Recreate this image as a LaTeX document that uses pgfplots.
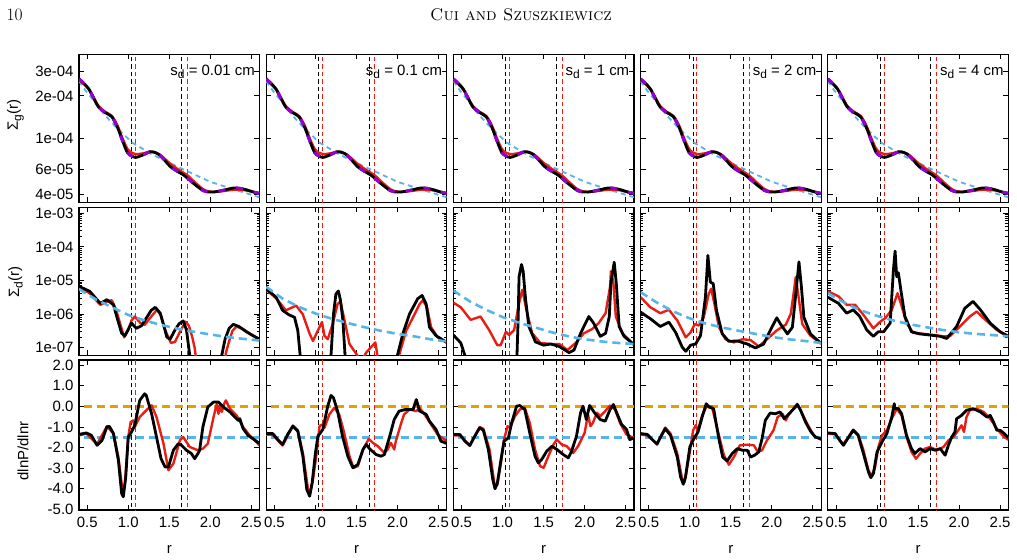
\documentclass[border=0pt]{standalone}
\usepackage{fontspec}
\usepackage{pgfplots}
\usepackage{pgfplotstable}
\pgfplotsset{compat=1.18}
\pgfkeys{/pgf/number format/assume math mode=true}
\newfontfamily\hel{Liberation Sans}

\definecolor{cred}{RGB}{232,30,20}
\definecolor{csky}{HTML}{56B4E9}
\definecolor{corange}{HTML}{E69F00}
\definecolor{cviolet}{HTML}{9400D3}

\newcommand{\tf}{\hel\fontsize{15}{15}\selectfont}
\newcommand{\sub}[1]{\raisebox{-0.45ex}{\fontsize{12}{12}\selectfont #1}}

\pgfplotsset{
  panel/.style={/pgfplots/.cd,
    scale only axis, width=180.5bp,
    xmin=0.4, xmax=2.6,
    xtick={0.5,1,1.5,2,2.5}, xticklabels={}, yticklabels={},
    axis line style={line width=1.2bp},
    tick style={black, line width=0.9bp},
    major tick length=5bp, tick align=inside,
    minor tick num=0,
    tick label style={font=\tf},
    yticklabel style={xshift=-2bp},
  },
  gasrow/.style={/pgfplots/.cd, ymin=3.5e-5, ymax=3.95e-4, height=148bp,
    ytick={4e-5,6e-5,1e-4,2e-4,3e-4}, panel},
  dustrow/.style={/pgfplots/.cd, ymin=6e-8, ymax=1.5e-3, height=148bp,
    ytick={1e-7,1e-6,1e-5,1e-4,1e-3}, panel},
  presrow/.style={/pgfplots/.cd, ymin=-5.03, ymax=2.25, height=150bp,
    ytick={-5,-4,-3,-2,-1,0,1,2}, panel},
  bottomlabels/.style={/pgfplots/.cd, xticklabels={0.5,1.0,1.5,2.0,2.5},
    xticklabel style={yshift=-4bp}},
  blk/.style={black, line width=2.8bp, line join=round},
  rd/.style={cred, line width=2.4bp, line join=round},
  bdash/.style={csky, line width=2.6bp, dash pattern=on 8bp off 5bp},
  gdash/.style={csky, line width=1.8bp, dash pattern=on 5bp off 4bp},
  vdash/.style={cviolet, line width=3bp, dash pattern=on 7bp off 11bp},
  odash/.style={corange, line width=2.6bp, dash pattern=on 8bp off 5bp},
  vblk/.style={black, line width=1bp, dash pattern=on 4.5bp off 3bp},
  vred/.style={cred, line width=1bp, dash pattern=on 4.5bp off 3bp},
}

% gap edges (black) and their shifted positions (red)
\newcommand{\edges}[2]{%
  \addplot[vblk] coordinates {(1.04,#1) (1.04,#2)};
  \addplot[vred] coordinates {(1.085,#1) (1.085,#2)};
  \addplot[vblk] coordinates {(1.655,#1) (1.655,#2)};
  \addplot[vred] coordinates {(1.725,#1) (1.725,#2)};
}

% gas surface density
\pgfplotstableread{
r s
0.40 2.64e-4
0.46 2.45e-4
0.52 2.24e-4
0.58 1.92e-4
0.64 1.66e-4
0.72 1.52e-4
0.80 1.42e-4
0.87 1.19e-4
0.93 9.6e-5
0.99 7.9e-5
1.04 7.5e-5
1.09 7.3e-5
1.18 7.6e-5
1.26 8.0e-5
1.32 7.95e-5
1.38 7.6e-5
1.45 6.9e-5
1.51 6.3e-5
1.60 5.8e-5
1.67 5.5e-5
1.73 5.15e-5
1.79 4.8e-5
1.85 4.5e-5
1.91 4.25e-5
1.97 4.15e-5
2.05 4.15e-5
2.15 4.25e-5
2.28 4.42e-5
2.36 4.4e-5
2.44 4.3e-5
2.52 4.15e-5
2.60 4.05e-5
}\gasblk

\pgfplotstableread{
r s
0.40 2.6e-4
0.46 2.42e-4
0.52 2.22e-4
0.58 1.94e-4
0.64 1.69e-4
0.72 1.54e-4
0.80 1.44e-4
0.87 1.23e-4
0.93 1.0e-4
0.99 8.4e-5
1.04 7.9e-5
1.09 7.7e-5
1.18 7.8e-5
1.26 8.0e-5
1.32 7.9e-5
1.38 7.7e-5
1.45 7.1e-5
1.51 6.6e-5
1.60 6.05e-5
1.67 5.7e-5
1.73 5.4e-5
1.79 5.0e-5
1.85 4.65e-5
1.91 4.35e-5
1.97 4.2e-5
2.05 4.15e-5
2.15 4.2e-5
2.28 4.3e-5
2.36 4.3e-5
2.44 4.25e-5
2.52 4.15e-5
2.60 4.05e-5
}\gasred

\pgfplotstableread{
r s
0.40 2.55e-4
0.48 2.18e-4
0.58 1.85e-4
0.72 1.45e-4
0.85 1.2e-4
1.05 9.3e-5
1.30 7.6e-5
1.67 6.0e-5
2.00 4.9e-5
2.30 4.3e-5
2.60 3.8e-5
}\gasinit

\newcommand{\gaspanel}[1]{%
  \edges{1e-5}{1e-3}
  \addplot[gdash] table[x=r,y=s] {\gasinit};
  \addplot[rd, smooth] table[x=r,y=s] {\gasred};
  \addplot[blk, smooth] table[x=r,y=s] {\gasblk};
  \addplot[vdash, smooth] table[x=r,y=s] {\gasblk};
  \node[anchor=base east, inner sep=0, font=\tf] at (rel axis cs:0.975,0.86) {s\sub{d} = #1 cm};
}

\newcommand{\preslines}{%
  \edges{-10}{10}
  \addplot[odash] coordinates {(0.3,0) (2.7,0)};
  \addplot[bdash] coordinates {(0.3,-1.5) (2.7,-1.5)};
}

\begin{document}
\begin{tikzpicture}
\path[use as bounding box] (0,0) rectangle (1017bp,-560bp);

\node[anchor=base west, inner sep=0] at (6.5bp,-20.7bp) {\fontsize{17.5}{17.5}\selectfont 10};
\node[anchor=base, inner sep=0] at (521bp,-20.7bp) {\fontsize{17}{17}\selectfont\textsc{Cui and Szuszkiewicz}};

% ---------------- gas row ----------------
\begin{semilogyaxis}[gasrow, at={(79bp,-54.3bp)}, anchor=north west,
  yticklabels={4e-05,6e-05,1e-04,2e-04,3e-04}]
\gaspanel{0.01}
\end{semilogyaxis}
\begin{semilogyaxis}[gasrow, at={(266.2bp,-54.3bp)}, anchor=north west]
\gaspanel{0.1}
\end{semilogyaxis}
\begin{semilogyaxis}[gasrow, at={(453.4bp,-54.3bp)}, anchor=north west]
\gaspanel{1}
\end{semilogyaxis}
\begin{semilogyaxis}[gasrow, at={(640.6bp,-54.3bp)}, anchor=north west]
\gaspanel{2}
\end{semilogyaxis}
\begin{semilogyaxis}[gasrow, at={(827.8bp,-54.3bp)}, anchor=north west]
\gaspanel{4}
\end{semilogyaxis}

% ---------------- dust row ----------------
\begin{semilogyaxis}[dustrow, at={(79bp,-207.3bp)}, anchor=north west,
  yticklabels={1e-07,1e-06,1e-05,1e-04,1e-03}]
\edges{1e-9}{1e-2}
\addplot[rd] coordinates {(0.40,6.4e-6) (0.53,4.2e-6) (0.66,1.9e-6) (0.75,2.4e-6) (0.80,2.6e-6) (0.85,1.4e-6) (0.90,5.4e-7) (0.95,2.05e-7) (1.00,3.4e-7) (1.04,6.5e-7) (1.08,8.5e-7) (1.15,5.4e-7) (1.20,4.8e-7) (1.28,8.5e-7) (1.35,1.35e-6) (1.40,9e-7) (1.45,3.4e-7) (1.52,1.4e-7) (1.57,1.5e-7) (1.63,3.0e-7) (1.70,6.0e-7) (1.74,4.5e-7) (1.78,2.1e-7) (1.81,1e-7) (1.86,1e-8) (2.16,1e-8) (2.19,7e-8) (2.22,1.3e-7) (2.27,3.2e-7) (2.32,4.3e-7) (2.40,3.6e-7) (2.50,2.5e-7) (2.60,1.8e-7)};
\addplot[blk] coordinates {(0.40,6.7e-6) (0.53,4.8e-6) (0.66,2.1e-6) (0.74,2.7e-6) (0.82,1.9e-6) (0.87,7e-7) (0.92,2.7e-7) (0.96,2.3e-7) (1.00,3.5e-7) (1.04,5.4e-7) (1.10,3.8e-7) (1.16,4.5e-7) (1.22,7.6e-7) (1.28,1.3e-6) (1.33,1.6e-6) (1.39,1.07e-6) (1.44,4e-7) (1.47,2.1e-7) (1.51,1.8e-7) (1.57,3.4e-7) (1.62,5.2e-7) (1.67,6.3e-7) (1.71,3.4e-7) (1.75,6e-8) (1.80,1e-8) (2.10,1e-8) (2.14,6e-8) (2.18,1.8e-7) (2.23,3.8e-7) (2.28,5.0e-7) (2.35,4.3e-7) (2.44,3.0e-7) (2.52,2.3e-7) (2.60,1.8e-7)};
\addplot[bdash] coordinates {(0.4,5.6e-6) (0.6,2.8e-6) (0.8,1.6e-6) (1.0,9.5e-7) (1.2,6.5e-7) (1.4,4.8e-7) (1.6,3.7e-7) (1.8,3.0e-7) (2.0,2.5e-7) (2.2,2.1e-7) (2.4,1.85e-7) (2.6,1.65e-7)};
\end{semilogyaxis}

\begin{semilogyaxis}[dustrow, at={(266.2bp,-207.3bp)}, anchor=north west]
\edges{1e-9}{1e-2}
\addplot[rd] coordinates {(0.40,5.3e-6) (0.52,3.0e-6) (0.64,1.3e-6) (0.765,1.8e-6) (0.845,1.0e-6) (0.93,2.6e-7) (0.97,1.6e-7) (1.03,3.3e-7) (1.08,5.8e-7) (1.11,2.3e-7) (1.15,1.8e-7) (1.21,5.1e-7) (1.27,2.0e-6) (1.305,2.4e-6) (1.355,6.5e-7) (1.415,1.3e-7) (1.50,6.5e-8) (1.56,4e-8) (1.62,7.3e-8) (1.70,1.2e-7) (1.73,1.45e-7) (1.76,5e-8) (1.79,1e-8) (2.00,1e-8) (2.02,6e-8) (2.105,3.2e-7) (2.19,8.1e-7) (2.27,2.0e-6) (2.31,2.6e-6) (2.36,1.6e-6) (2.41,4.1e-7) (2.49,2.05e-7) (2.60,1.45e-7)};
\addplot[blk] coordinates {(0.40,5.7e-6) (0.52,3.2e-6) (0.60,1.3e-6) (0.68,9.5e-7) (0.745,8.1e-7) (0.785,3.3e-7) (0.814,6e-8) (0.83,1e-8) (1.17,1e-8) (1.19,6e-8) (1.22,1e-6) (1.25,4e-6) (1.28,4.9e-6) (1.305,2.6e-6) (1.335,6.5e-7) (1.36,6.5e-8) (1.38,1e-8) (1.98,1e-8) (2.00,6e-8) (2.065,2.6e-7) (2.146,1e-6) (2.247,2.9e-6) (2.30,3.6e-6) (2.35,2.0e-6) (2.39,4.1e-7) (2.47,2.3e-7) (2.60,1.45e-7)};
\addplot[bdash] coordinates {(0.4,6.5e-6) (0.6,2.9e-6) (0.8,1.64e-6) (1.0,1.05e-6) (1.2,7.3e-7) (1.4,5.4e-7) (1.6,4.1e-7) (1.8,3.2e-7) (2.0,2.6e-7) (2.2,2.2e-7) (2.4,1.8e-7) (2.6,1.55e-7)};
\end{semilogyaxis}

\begin{semilogyaxis}[dustrow, at={(453.4bp,-207.3bp)}, anchor=north west]
\edges{1e-9}{1e-2}
\addplot[rd] coordinates {(0.40,2.2e-6) (0.49,1.6e-6) (0.61,6.8e-7) (0.73,8.5e-7) (0.835,3.4e-7) (0.935,1.2e-7) (0.976,1.2e-7) (1.04,3.0e-7) (1.08,2.4e-7) (1.14,3.4e-7) (1.20,2.1e-6) (1.24,5.3e-6) (1.29,1.35e-6) (1.36,2.7e-7) (1.46,1.4e-7) (1.585,1.3e-7) (1.69,1.3e-7) (1.79,8.6e-8) (1.89,1.4e-7) (1.99,2.7e-7) (2.09,3.6e-7) (2.17,5.4e-7) (2.255,1.07e-6) (2.31,6.7e-6) (2.32,1.9e-5) (2.35,8.4e-6) (2.38,8.5e-7) (2.46,2.7e-7) (2.60,1.25e-7)};
\addplot[blk] coordinates {(0.40,2.4e-7) (0.49,1.4e-7) (0.55,5e-8) (0.58,1e-8) (1.15,1e-8) (1.175,6e-8) (1.19,8.5e-7) (1.20,1.3e-5) (1.23,3.0e-5) (1.25,1.9e-5) (1.28,2.7e-6) (1.32,4.3e-7) (1.40,1.5e-7) (1.50,1.2e-7) (1.585,1.3e-7) (1.69,1.1e-7) (1.81,7.2e-8) (1.87,8.6e-8) (1.95,2.7e-7) (2.05,8.5e-7) (2.11,5.4e-7) (2.19,2.2e-7) (2.255,2.7e-7) (2.30,8.5e-7) (2.32,8.4e-6) (2.36,3.5e-5) (2.385,8.4e-6) (2.42,4.3e-7) (2.48,2.2e-7) (2.60,1.25e-7)};
\addplot[bdash] coordinates {(0.4,5.0e-6) (0.6,2.4e-6) (0.8,1.35e-6) (1.0,8.2e-7) (1.2,5.6e-7) (1.4,4.0e-7) (1.6,2.9e-7) (1.8,2.2e-7) (2.0,1.8e-7) (2.2,1.55e-7) (2.4,1.4e-7) (2.6,1.3e-7)};
\end{semilogyaxis}

\begin{semilogyaxis}[dustrow, at={(640.6bp,-207.3bp)}, anchor=north west]
\edges{1e-9}{1e-2}
\addplot[rd] coordinates {(0.40,3.2e-6) (0.52,1.6e-6) (0.64,1.07e-6) (0.745,1.35e-6) (0.847,6.5e-7) (0.95,2.05e-7) (1.01,2.9e-7) (1.06,5.1e-7) (1.11,4.6e-7) (1.17,8.1e-7) (1.23,4.0e-6) (1.26,5.7e-6) (1.30,2.0e-6) (1.355,4.1e-7) (1.435,1.8e-7) (1.537,1.45e-7) (1.64,1.8e-7) (1.74,1.7e-7) (1.84,1.1e-7) (1.94,1.8e-7) (2.06,3.3e-7) (2.17,4.9e-7) (2.23,1.02e-6) (2.27,5.1e-6) (2.29,1.26e-5) (2.32,4.1e-6) (2.37,5.1e-7) (2.47,2.3e-7) (2.60,1.35e-7)};
\addplot[blk] coordinates {(0.40,1.15e-6) (0.52,7.3e-7) (0.64,4.3e-7) (0.745,5.8e-7) (0.826,2.9e-7) (0.907,1.05e-7) (0.95,7.9e-8) (1.01,1.2e-7) (1.07,1.3e-7) (1.13,2.3e-7) (1.19,3.2e-6) (1.22,5.6e-5) (1.25,9.0e-6) (1.285,8.1e-6) (1.325,1.3e-6) (1.395,2.6e-7) (1.475,1.56e-7) (1.58,1.6e-7) (1.70,1.3e-7) (1.80,9.9e-8) (1.90,1.3e-7) (1.98,3.3e-7) (2.06,7.8e-7) (2.105,5.1e-7) (2.19,2.6e-7) (2.25,4.1e-7) (2.30,6.4e-6) (2.33,3.6e-5) (2.36,6.4e-6) (2.39,8.1e-7) (2.47,2.6e-7) (2.60,1.35e-7)};
\addplot[bdash] coordinates {(0.4,4.5e-6) (0.6,2.2e-6) (0.8,1.2e-6) (1.0,7.5e-7) (1.2,5.2e-7) (1.4,4.0e-7) (1.6,3.2e-7) (1.8,2.6e-7) (2.0,2.1e-7) (2.2,1.8e-7) (2.4,1.6e-7) (2.6,1.4e-7)};
\end{semilogyaxis}

\begin{semilogyaxis}[dustrow, at={(827.8bp,-207.3bp)}, anchor=north west]
\edges{1e-9}{1e-2}
\addplot[rd] coordinates {(0.40,4.8e-6) (0.53,3.4e-6) (0.63,1.9e-6) (0.733,1.9e-6) (0.835,9.5e-7) (0.955,3.8e-7) (1.04,6.0e-7) (1.10,7.6e-7) (1.18,1.35e-6) (1.25,4.2e-6) (1.29,2.1e-6) (1.36,5.4e-7) (1.44,2.8e-7) (1.565,2.6e-7) (1.69,2.4e-7) (1.81,2.2e-7) (1.89,2.25e-7) (2.01,4.3e-7) (2.13,8.5e-7) (2.215,1.2e-6) (2.32,6.8e-7) (2.46,3.4e-7) (2.60,2.2e-7)};
\addplot[blk] coordinates {(0.40,3.2e-6) (0.53,2.1e-6) (0.63,1.07e-6) (0.71,1.35e-6) (0.79,8.5e-7) (0.875,3.4e-7) (0.955,2.2e-7) (1.015,3.0e-7) (1.08,3.0e-7) (1.16,5.4e-7) (1.20,2.1e-5) (1.22,7.5e-5) (1.24,1.3e-5) (1.26,1.7e-5) (1.29,5.3e-6) (1.34,8.5e-7) (1.42,3.0e-7) (1.52,2.6e-7) (1.645,2.4e-7) (1.77,2.2e-7) (1.85,1.9e-7) (1.97,4.3e-7) (2.07,1.5e-6) (2.17,2.4e-6) (2.26,1.35e-6) (2.38,5.4e-7) (2.50,3.0e-7) (2.60,2.2e-7)};
\addplot[bdash] coordinates {(0.4,4.2e-6) (0.6,2.2e-6) (0.8,1.3e-6) (1.0,8.9e-7) (1.2,6.5e-7) (1.4,5.0e-7) (1.6,4.1e-7) (1.8,3.4e-7) (2.0,2.9e-7) (2.2,2.6e-7) (2.4,2.4e-7) (2.6,2.2e-7)};
\end{semilogyaxis}

% ---------------- pressure gradient row ----------------
\begin{axis}[presrow, bottomlabels, at={(79bp,-360bp)}, anchor=north west,
  yticklabels={-5.0,-4.0,-3.0,-2.0,-1.0,0.0,1.0,2.0}]
\preslines
\addplot[rd] coordinates {(0.40,-1.41) (0.49,-1.32) (0.62,-1.84) (0.74,-0.97) (0.82,-1.32) (0.88,-2.46) (0.93,-4.07) (0.96,-3.75) (1.00,-1.49) (1.03,-0.76) (1.06,-0.68) (1.08,-1.00) (1.14,-0.52) (1.22,-0.19) (1.285,0.05) (1.345,-0.52) (1.43,-1.81) (1.49,-3.10) (1.55,-2.78) (1.63,-1.65) (1.67,-1.49) (1.75,-1.97) (1.85,-2.13) (1.91,-2.05) (1.97,-1.81) (2.04,-0.52) (2.08,0.13) (2.10,-0.36) (2.12,0.05) (2.14,-0.27) (2.17,0.13) (2.19,0.29) (2.24,-0.11) (2.32,-0.44) (2.40,-1.00) (2.48,-1.41) (2.60,-1.89)};
\addplot[blk] coordinates {(0.40,-1.36) (0.49,-1.29) (0.55,-1.40) (0.62,-1.89) (0.68,-1.65) (0.74,-1.00) (0.77,-0.97) (0.82,-1.32) (0.88,-2.62) (0.92,-4.23) (0.94,-4.39) (0.97,-3.42) (1.00,-1.49) (1.04,-1.24) (1.08,-0.92) (1.14,0.29) (1.20,0.61) (1.22,0.53) (1.285,-0.36) (1.345,-1.49) (1.40,-2.54) (1.45,-2.94) (1.49,-2.94) (1.55,-2.13) (1.61,-1.81) (1.65,-1.89) (1.71,-2.13) (1.77,-2.29) (1.81,-2.54) (1.85,-2.29) (1.87,-2.13) (1.91,-1.00) (1.97,-0.03) (2.04,0.21) (2.10,0.21) (2.16,-0.03) (2.24,-0.27) (2.30,-0.52) (2.34,-0.68) (2.36,-0.60) (2.40,-1.08) (2.46,-1.41) (2.52,-1.57) (2.60,-1.80)};
\end{axis}

\begin{axis}[presrow, bottomlabels, at={(266.2bp,-360bp)}, anchor=north west]
\preslines
\addplot[rd] coordinates {(0.40,-1.37) (0.48,-1.38) (0.60,-1.90) (0.725,-0.93) (0.785,-1.16) (0.847,-2.26) (0.91,-4.04) (0.94,-4.12) (0.97,-3.55) (1.01,-2.42) (1.05,-0.96) (1.08,-0.88) (1.11,-1.04) (1.17,-0.39) (1.23,-0.07) (1.29,-0.39) (1.35,-1.28) (1.415,-2.42) (1.464,-2.98) (1.517,-2.90) (1.58,-2.09) (1.65,-1.58) (1.70,-1.77) (1.76,-1.93) (1.84,-2.26) (1.88,-2.09) (1.92,-1.77) (1.96,-2.09) (1.98,-1.69) (2.04,-0.88) (2.08,-0.39) (2.15,-0.15) (2.23,-0.23) (2.27,-0.07) (2.33,-0.39) (2.41,-0.88) (2.49,-1.37) (2.60,-1.69)};
\addplot[blk] coordinates {(0.40,-1.32) (0.48,-1.32) (0.54,-1.61) (0.60,-1.85) (0.66,-1.37) (0.725,-0.96) (0.785,-1.20) (0.847,-2.42) (0.895,-4.04) (0.93,-4.36) (0.96,-3.71) (1.00,-2.26) (1.03,-1.45) (1.09,-1.12) (1.15,0.01) (1.19,0.53) (1.22,0.41) (1.27,-0.23) (1.33,-1.45) (1.395,-2.42) (1.456,-2.98) (1.517,-2.82) (1.58,-2.09) (1.62,-1.85) (1.66,-2.06) (1.74,-2.34) (1.80,-2.42) (1.84,-2.34) (1.90,-1.53) (1.96,-0.64) (2.02,-0.23) (2.10,-0.15) (2.19,-0.15) (2.23,0.33) (2.27,-0.23) (2.35,-0.39) (2.39,-0.72) (2.47,-1.12) (2.53,-1.69) (2.60,-1.80)};
\end{axis}

\begin{axis}[presrow, bottomlabels, at={(453.4bp,-360bp)}, anchor=north west]
\preslines
\addplot[rd] coordinates {(0.40,-1.41) (0.48,-1.41) (0.60,-1.90) (0.72,-1.00) (0.765,-1.09) (0.84,-2.09) (0.907,-3.96) (0.936,-3.80) (0.98,-2.74) (1.017,-1.61) (1.06,-0.96) (1.09,-1.04) (1.15,-0.48) (1.21,-0.15) (1.27,-0.07) (1.33,-0.80) (1.395,-2.09) (1.456,-2.90) (1.50,-2.98) (1.557,-2.42) (1.62,-1.85) (1.66,-1.61) (1.72,-1.85) (1.78,-1.93) (1.86,-2.26) (1.92,-1.93) (1.96,-1.61) (2.00,-1.28) (2.04,-0.39) (2.07,-0.96) (2.10,-0.80) (2.15,-0.31) (2.19,-0.48) (2.25,-0.23) (2.31,0.04) (2.37,-0.15) (2.43,-0.80) (2.51,-1.37) (2.60,-1.53)};
\addplot[blk] coordinates {(0.40,-1.37) (0.48,-1.37) (0.54,-1.69) (0.60,-1.90) (0.66,-1.45) (0.72,-1.04) (0.765,-1.16) (0.826,-2.09) (0.88,-3.55) (0.907,-4.00) (0.936,-3.71) (0.98,-2.58) (1.017,-1.69) (1.07,-1.53) (1.11,-0.80) (1.17,0.01) (1.21,0.04) (1.27,-0.15) (1.33,-1.28) (1.395,-2.42) (1.435,-2.74) (1.476,-2.58) (1.537,-2.18) (1.60,-1.93) (1.66,-2.09) (1.74,-2.34) (1.80,-2.50) (1.84,-2.18) (1.90,-1.45) (1.95,-0.31) (1.98,0.01) (2.02,-0.64) (2.06,0.04) (2.12,-0.31) (2.19,-0.64) (2.25,-0.72) (2.31,-0.15) (2.35,0.09) (2.39,-0.31) (2.45,-0.88) (2.51,-1.12) (2.55,-1.61) (2.60,-1.53)};
\end{axis}

\begin{axis}[presrow, bottomlabels, at={(640.6bp,-360bp)}, anchor=north west]
\preslines
\addplot[rd] coordinates {(0.40,-1.36) (0.48,-1.41) (0.60,-1.81) (0.70,-1.03) (0.765,-1.32) (0.847,-2.29) (0.91,-3.59) (0.936,-3.67) (0.99,-2.46) (1.04,-1.16) (1.07,-0.92) (1.10,-1.16) (1.15,-0.44) (1.21,0.05) (1.27,-0.03) (1.334,-1.08) (1.415,-2.37) (1.476,-2.83) (1.537,-2.46) (1.61,-1.89) (1.70,-1.86) (1.78,-1.89) (1.83,-2.21) (1.88,-2.13) (1.94,-1.65) (1.98,-1.41) (2.02,-1.16) (2.07,-0.52) (2.13,-0.36) (2.17,-0.68) (2.21,-0.36) (2.27,-0.11) (2.32,0.05) (2.37,-0.36) (2.43,-0.84) (2.51,-1.41) (2.60,-1.62)};
\addplot[blk] coordinates {(0.40,-1.32) (0.48,-1.36) (0.56,-1.68) (0.60,-1.84) (0.64,-1.52) (0.70,-1.08) (0.765,-1.41) (0.847,-2.46) (0.887,-3.42) (0.92,-3.78) (0.948,-3.42) (1.00,-1.97) (1.05,-1.57) (1.10,-1.24) (1.15,-0.52) (1.20,0.13) (1.23,-0.03) (1.29,-0.11) (1.35,-1.49) (1.40,-2.46) (1.455,-2.65) (1.516,-2.29) (1.58,-2.05) (1.64,-2.13) (1.70,-2.13) (1.74,-2.46) (1.79,-2.37) (1.84,-2.21) (1.88,-1.57) (1.92,-0.68) (1.98,-0.32) (2.04,-0.36) (2.10,-0.27) (2.15,-0.60) (2.19,-0.44) (2.25,-0.19) (2.31,0.10) (2.35,-0.19) (2.41,-0.76) (2.47,-1.20) (2.53,-1.49) (2.60,-1.58)};
\end{axis}

\begin{axis}[presrow, bottomlabels, at={(827.8bp,-360bp)}, anchor=north west]
\preslines
\addplot[rd] coordinates {(0.40,-1.32) (0.49,-1.36) (0.59,-1.84) (0.71,-1.13) (0.77,-1.36) (0.834,-2.13) (0.895,-3.10) (0.936,-3.39) (0.976,-2.94) (1.017,-1.97) (1.06,-1.41) (1.12,-1.16) (1.18,-0.60) (1.24,-0.11) (1.30,-0.44) (1.36,-1.49) (1.42,-2.21) (1.475,-2.54) (1.525,-2.29) (1.585,-2.05) (1.646,-1.97) (1.73,-2.13) (1.81,-1.97) (1.87,-1.65) (1.93,-1.49) (1.99,-1.16) (2.03,-0.92) (2.06,-1.24) (2.09,-0.52) (2.13,-0.19) (2.21,-0.11) (2.30,-0.27) (2.38,-0.60) (2.46,-1.08) (2.54,-1.45) (2.60,-1.62)};
\addplot[blk] coordinates {(0.40,-1.29) (0.49,-1.32) (0.55,-1.68) (0.59,-1.89) (0.65,-1.52) (0.71,-1.16) (0.77,-1.41) (0.834,-2.29) (0.895,-3.18) (0.924,-3.46) (0.956,-3.26) (1.00,-2.21) (1.06,-1.73) (1.12,-1.32) (1.18,-0.52) (1.21,0.13) (1.22,-0.11) (1.26,-0.11) (1.30,-0.36) (1.36,-1.41) (1.42,-2.05) (1.46,-2.29) (1.525,-2.05) (1.585,-2.21) (1.646,-2.05) (1.71,-2.13) (1.77,-2.05) (1.83,-2.37) (1.87,-1.89) (1.91,-1.49) (1.95,-1.24) (1.97,-0.60) (2.03,-0.44) (2.09,-0.19) (2.17,-0.11) (2.26,-0.27) (2.34,-0.52) (2.38,-0.44) (2.42,-0.76) (2.46,-1.16) (2.50,-1.16) (2.55,-1.32) (2.60,-1.52)};
\end{axis}

% axis titles
\node[rotate=90, font=\tf] at (15.5bp,-115bp) {Σ\sub{g}(r)};
\node[rotate=90, font=\tf] at (15.5bp,-282bp) {Σ\sub{d}(r)};
\node[rotate=90, font=\tf] at (23bp,-451bp) {dlnP/dlnr};
\foreach \cx in {169.3,356.5,543.7,730.9,918.1}
  \node[font=\tf] at (\cx bp,-549bp) {r};
\end{tikzpicture}
\end{document}
